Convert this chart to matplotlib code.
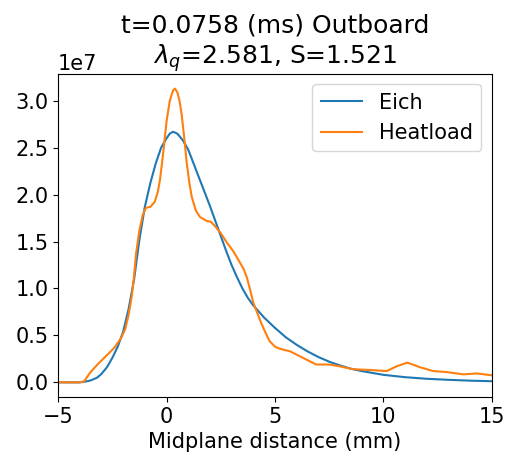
import matplotlib
matplotlib.use("Agg")
import matplotlib.pyplot as plt

# Eich fit profile (x in mm, q in units of 1e7)
eich_x = [-5.0, -4.0, -3.7, -3.5, -3.2, -3.0, -2.75, -2.5, -2.25, -2.0, -1.75, -1.5,
          -1.25, -1.0, -0.75, -0.5, -0.25, 0.0, 0.15, 0.3, 0.5, 0.75, 1.0, 1.25, 1.5,
          1.75, 2.0, 2.25, 2.5, 2.75, 3.0, 3.25, 3.5, 3.75, 4.0, 4.5, 5.0, 5.5, 6.0,
          6.5, 7.0, 7.5, 8.0, 8.5, 9.0, 10.0, 11.0, 12.0, 13.0, 14.0, 15.0]
eich_q = [0.0, 0.0, 0.01, 0.02, 0.05, 0.09, 0.16, 0.26, 0.38, 0.54, 0.78, 1.09,
          1.52, 1.87, 2.12, 2.33, 2.50, 2.60, 2.65, 2.67, 2.65, 2.58, 2.48, 2.33, 2.18,
          2.03, 1.88, 1.72, 1.56, 1.40, 1.25, 1.12, 1.00, 0.90, 0.82, 0.69, 0.58, 0.48,
          0.40, 0.33, 0.27, 0.22, 0.18, 0.145, 0.12, 0.08, 0.055, 0.038, 0.027, 0.018,
          0.012]

# measured heat load profile
heat_x = [-5.0, -4.0, -3.8, -3.5, -3.1, -2.7, -2.4, -2.1, -1.9, -1.75, -1.6, -1.5,
          -1.4, -1.25, -1.1, -0.95, -0.75, -0.55, -0.4, -0.3, -0.15, 0.0, 0.15, 0.3,
          0.39, 0.5, 0.6, 0.7, 0.82, 0.93, 1.05, 1.16, 1.35, 1.55, 1.85, 2.05, 2.25,
          2.5, 2.75, 3.1, 3.4, 3.55, 3.7, 3.85, 4.0, 4.3, 4.5, 4.75, 5.0, 5.2, 5.7, 6.3,
          6.9, 7.5, 8.0, 8.6, 9.5, 10.15, 10.6, 11.1, 11.7, 12.3, 12.9, 13.7, 14.3, 15.0]
heat_q = [0.0, 0.0, 0.01, 0.11, 0.21, 0.30, 0.37, 0.47, 0.57, 0.72, 0.92, 1.13,
          1.38, 1.62, 1.78, 1.86, 1.87, 1.92, 2.03, 2.16, 2.45, 2.78, 3.00, 3.11,
          3.13, 3.09, 3.00, 2.85, 2.60, 2.34, 2.13, 1.98, 1.83, 1.76, 1.72, 1.71, 1.66,
          1.59, 1.50, 1.39, 1.27, 1.21, 1.12, 0.99, 0.85, 0.67, 0.56, 0.44, 0.38, 0.36,
          0.33, 0.26, 0.19, 0.19, 0.17, 0.14, 0.13, 0.12, 0.17, 0.21, 0.16, 0.12, 0.11,
          0.085, 0.095, 0.075]

plt.rcParams['font.size'] = 15

fig = plt.figure(figsize=(5.05, 4.59), dpi=100)
ax = fig.add_axes([0.115, 0.135, 0.859, 0.704])

ax.plot(eich_x, [v * 1e7 for v in eich_q], label='Eich', lw=1.5)
ax.plot(heat_x, [v * 1e7 for v in heat_q], label='Heatload', lw=1.5)

ax.set_xlim(-5, 15)
ax.set_xlabel('Midplane distance (mm)')
ax.set_title('t=0.0758 (ms) Outboard\n$\\lambda_q$=2.581, S=1.521')
ax.legend(loc='upper right')

fig.savefig('out.png', dpi=100)
